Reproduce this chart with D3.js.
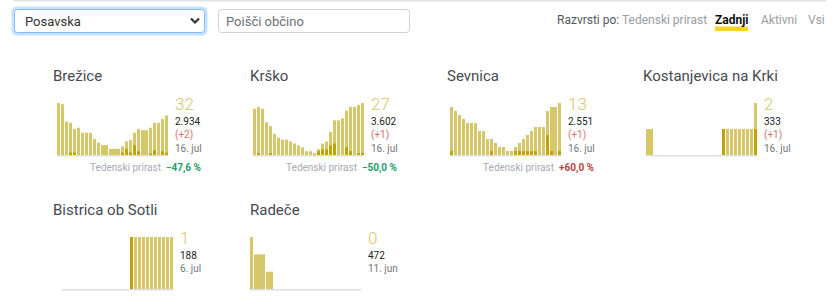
<!DOCTYPE html>
<html>
<head>
<meta charset="utf-8">
<script src="https://cdn.jsdelivr.net/npm/d3@7"></script>
<style>
  body { margin: 0; background: #fff; }
  svg { display: block; font-family: Roboto, "Noto Sans", sans-serif; }
</style>
</head>
<body>
<div id="chart"></div>
<script>
// data: one bar per day, null = no record (previous bar extends)
const regions = ['Brežice', 'Krško', 'Sevnica', 'Kostanjevica na Krki', 'Bistrica ob Sotli', 'Radeče'];

const activeBrezice = [42, 41, 27, 26, 21, 22, 18, 18, 18, 13, 10, 8, null, 5, null, null, 7, 11, 12, 18, 21, 20, null, 22, 26, 26, 29, 32];
const newBrezice    = [0, 0, 0, 2, 2, 0, 0, 0, 0, 0, 0, 0, 0, 0, 0, 0, 2, 5, 2, 8, 3, 0, 0, 1, 4, 0, 3, 2];

const activeKrsko = [24, 25, 24, 17, 15, 11, 9, 8, 8, 7, 6, 5, 4, 2, 2, 1, 3, 6, 7, 12, 18, 18, 19, 23, 25, 25, 26, 27];
const newKrsko    = [0, 1, 0, 0, 1, 0, 0, 0, 0, 0, 0, 0, 0, 0, 0, 0, 2, 3, 3, 5, 6, 0, 0, 4, 2, 0, 1, 1];

const activeSevnica = [12, 11, 10, 9, 8, 8, 8, 6, 6, 4, 4, 3, 2, 2, 1, 1, 2, 3, 4, 5, 6, 7, 7, 7, 11, 12, null, 13];
const newSevnica    = [1, 0, 0, 0, 0, 0, 0, 0, 0, 0, 1, 0, 0, 0, 0, 0, 1, 1, 1, 1, 1, 1, 0, 0, 5, 1, 0, 1];

const activeKostanjevica = [1, null, 0, 0, 0, 0, 0, 0, 0, 0, 0, 0, 0, 0, 0, 0, 0, 0, 0, 1, 1, 1, 1, 1, 1, 1, 1, 2];
const newKostanjevica    = [0, 0, 0, 0, 0, 0, 0, 0, 0, 0, 0, 0, 0, 0, 0, 0, 0, 0, 0, 1, 0, 0, 0, 0, 0, 0, 0, 1];

const activeBistrica = [0, 0, 0, 0, 0, 0, 0, 0, 0, 0, 0, 0, 0, 0, 0, 0, 0, 1, 1, 1, 1, 1, 1, 1, 1, 1, 1, 1];
const newBistrica    = [0, 0, 0, 0, 0, 0, 0, 0, 0, 0, 0, 0, 0, 0, 0, 0, 0, 1, 0, 0, 0, 0, 0, 0, 0, 0, 0, 0];

const activeRadece = [3, 2, null, null, 1, null, 0, 0, 0, 0, 0, 0, 0, 0, 0, 0, 0, 0, 0, 0, 0, 0, 0, 0, 0, 0, 0, 0];
const newRadece    = [0, 0, 0, 0, 0, 0, 0, 0, 0, 0, 0, 0, 0, 0, 0, 0, 0, 0, 0, 0, 0, 0, 0, 0, 0, 0, 0, 0];

const perCapita = ['2.934', '3.602', '2.551', '333', '188', '472'];
const lastDate = ['16. jul', '16. jul', '16. jul', '16. jul', '6. jul', '11. jun'];
const weeklyGrowth = [-47.6, -50.0, 60.0, null, null, null];

const sortOptions = ['Tedenski prirast', 'Zadnji', 'Aktivni', 'Vsi'];

const actives = [activeBrezice, activeKrsko, activeSevnica, activeKostanjevica, activeBistrica, activeRadece];
const news = [newBrezice, newKrsko, newSevnica, newKostanjevica, newBistrica, newRadece];

// layout
const width = 839, height = 306;
const colX = [53, 250, 447, 643];
const rowY = [81, 215];
const chartDx = [4, 3, 3, 3, 9, 0];
const chart_w = 111, chart_h = 52;

const lightColor = '#d6c76b';
const darkColor = '#c2a300';

const svg = d3.select('#chart').append('svg')
  .attr('width', width)
  .attr('height', height);

// top rule
svg.append('rect').attr('x', 14).attr('y', 0).attr('width', 812).attr('height', 1.5).attr('fill', '#e2e3e7');

// select box
svg.append('rect')
  .attr('x', 13).attr('y', 8).attr('width', 193).attr('height', 26).attr('rx', 4)
  .attr('fill', 'none').attr('stroke', 'rgba(0,123,255,0.22)').attr('stroke-width', 3);
svg.append('rect')
  .attr('x', 14.5).attr('y', 9.5).attr('width', 190).attr('height', 23).attr('rx', 3)
  .attr('fill', '#fff').attr('stroke', '#80bdff');
svg.append('text').attr('x', 25).attr('y', 26).attr('font-size', 13).attr('fill', '#333').text('Posavska');
svg.append('path').attr('d', 'M191,18.5 L195,22.5 L199,18.5')
  .attr('fill', 'none').attr('stroke', '#333').attr('stroke-width', 2.2);

// search input
svg.append('rect')
  .attr('x', 218.5).attr('y', 9.5).attr('width', 191).attr('height', 23).attr('rx', 3)
  .attr('fill', '#fff').attr('stroke', '#cfd2d6');
svg.append('text').attr('x', 226).attr('y', 26).attr('font-size', 13).attr('fill', '#6c6f75').text('Poišči občino');

// sort controls
svg.append('text').attr('x', 557).attr('y', 24).attr('font-size', 12).attr('fill', '#555a60').text('Razvrsti po:');
const optX = [622, 715, 761, 808];
sortOptions.forEach((o, i) => {
  if (o === 'Zadnji') {
    svg.append('rect').attr('x', 715).attr('y', 26.5).attr('width', 33).attr('height', 4.5).attr('fill', '#fdd31c');
  }
  svg.append('text')
    .attr('x', optX[i]).attr('y', 24).attr('font-size', 12)
    .attr('font-weight', o === 'Zadnji' ? 700 : 400)
    .attr('fill', o === 'Zadnji' ? '#111' : '#9a9da3')
    .text(o);
});

// panels
const fmtPct = d3.format('.1f');

regions.forEach((name, k) => {
  const col = k % 4, row = Math.floor(k / 4);
  const tx = colX[col], ty = rowY[row];
  const active = actives[k], fresh = news[k];
  const g = svg.append('g');

  g.append('text').attr('x', tx).attr('y', ty).attr('font-size', 15).attr('fill', '#474a50').text(name);

  const left = tx + chartDx[k], top = ty + 22;
  const x_scale = d3.scaleBand().domain(d3.range(active.length)).range([left, left + chart_w]).paddingInner(0.25);
  const y_scale = d3.scaleLinear().domain([0, d3.max(active)]).range([top + chart_h, top]);

  // records: a null day extends the previous record
  const records = [];
  active.forEach((v, i) => {
    if (v !== null) records.push({ i: i, v: v, span: 1 });
    else records[records.length - 1].span += 1;
  });

  g.selectAll('rect.active').data(records.filter(d => d.v > 0)).enter().append('rect')
    .attr('class', 'active')
    .attr('x', d => x_scale(d.i))
    .attr('y', d => y_scale(d.v))
    .attr('width', d => x_scale(d.i + d.span - 1) + x_scale.bandwidth() - x_scale(d.i))
    .attr('height', d => y_scale(0) - y_scale(d.v))
    .attr('fill', lightColor);

  g.selectAll('rect.new').data(fresh.map((v, i) => ({ i: i, v: v })).filter(d => d.v > 0)).enter().append('rect')
    .attr('class', 'new')
    .attr('x', d => x_scale(d.i))
    .attr('y', d => y_scale(d.v))
    .attr('width', x_scale.bandwidth())
    .attr('height', d => y_scale(0) - y_scale(d.v))
    .attr('fill', darkColor);

  // baseline
  g.append('rect').attr('x', left).attr('y', top + chart_h).attr('width', chart_w).attr('height', 1.5).attr('fill', '#dfe0e5');

  // labels
  const lx = left + chart_w + 7;
  const lastActive = active.filter(v => v !== null).slice(-1)[0];
  const lastNew = fresh[fresh.length - 1];
  g.append('text').attr('x', lx).attr('y', top + 7).attr('font-size', 17).attr('font-weight', 300)
    .attr('fill', lightColor).text(lastActive);
  g.append('text').attr('x', lx).attr('y', top + 22).attr('font-size', 10).attr('fill', '#222').text(perCapita[k]);
  let dy = 35;
  if (lastNew > 0) {
    g.append('text').attr('x', lx).attr('y', top + 35).attr('font-size', 10).attr('fill', '#d9746c').text('(+' + lastNew + ')');
    dy = 49;
  }
  g.append('text').attr('x', lx).attr('y', top + dy).attr('font-size', 10).attr('fill', '#72767c').text(lastDate[k]);

  if (weeklyGrowth[k] !== null) {
    const w = weeklyGrowth[k];
    const rx = left + chart_w + 33;
    g.append('text').attr('x', rx).attr('y', top + 68).attr('font-size', 10).attr('text-anchor', 'end')
      .attr('font-weight', 700).attr('fill', w < 0 ? '#22a06b' : '#b5443f')
      .text((w < 0 ? '\u2212' : '+') + fmtPct(Math.abs(w)).replace('.', ',') + ' %');
    g.append('text').attr('x', rx - 40).attr('y', top + 68).attr('font-size', 10).attr('text-anchor', 'end')
      .attr('fill', '#a7abb3').text('Tedenski prirast');
  }
});
</script>
</body>
</html>
